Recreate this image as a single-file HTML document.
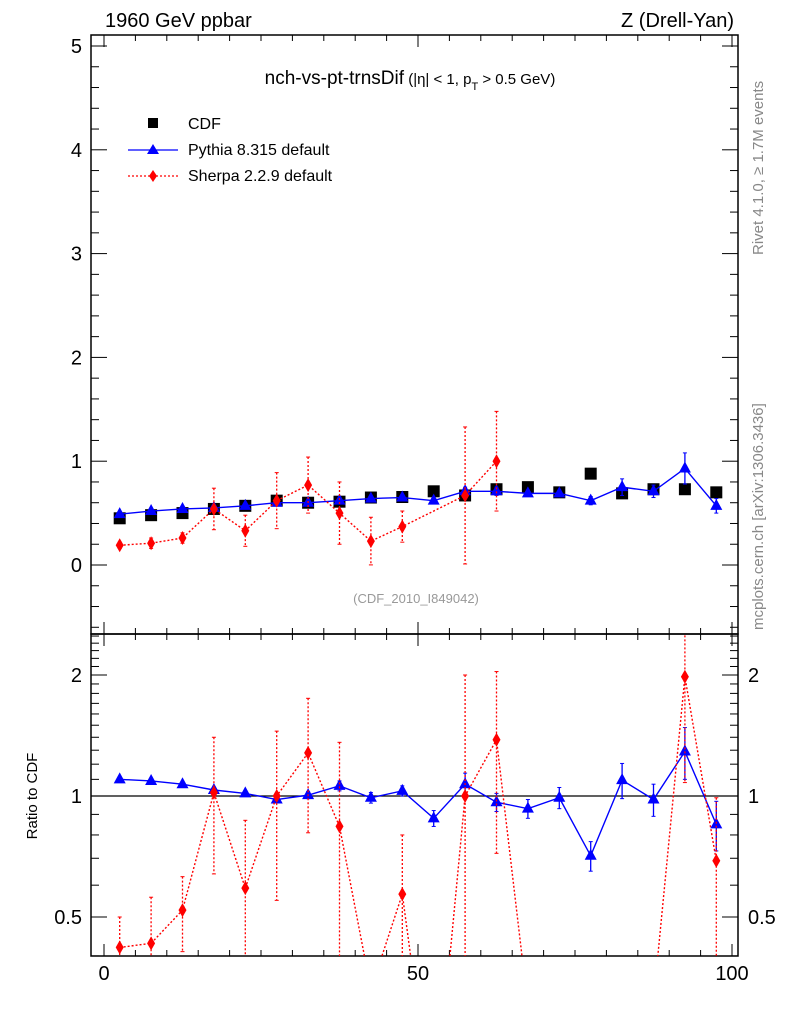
<!DOCTYPE html>
<html><head><meta charset="utf-8"><style>
html,body{margin:0;background:#fff;overflow:hidden;width:786px;height:1024px}
svg{display:block;font-family:"Liberation Sans",sans-serif}
</style></head><body>
<svg id="c" width="786" height="1024" xmlns="http://www.w3.org/2000/svg">
<text x="105" y="27" font-size="20">1960 GeV ppbar</text>
<text x="734" y="27" font-size="20" text-anchor="end">Z (Drell-Yan)</text>
<text x="410" y="84" font-size="19" text-anchor="middle">nch-vs-pt-trnsDif<tspan font-size="15"> (|η| &lt; 1, p</tspan><tspan font-size="11" dy="6">T</tspan><tspan font-size="15" dy="-6"> &gt; 0.5 GeV)</tspan></text>
<text x="416" y="603" font-size="13" fill="#999" text-anchor="middle">(CDF_2010_I849042)</text>
<text transform="translate(763,255) rotate(-90)" font-size="15" fill="#888">Rivet 4.1.0, ≥ 1.7M events</text>
<text transform="translate(763,630) rotate(-90)" font-size="15" fill="#888">mcplots.cern.ch [arXiv:1306.3436]</text>
<text transform="translate(37,796) rotate(-90)" font-size="15" text-anchor="middle">Ratio to CDF</text>
<g>
<rect x="148" y="118" width="10" height="10" fill="#000"/>
<text x="188" y="129" font-size="16">CDF</text>
<line x1="128" y1="150" x2="178" y2="150" stroke="#00f" stroke-width="1.3"/>
<polygon points="153,144 159,154 147,154" fill="#00f"/>
<text x="188" y="155" font-size="16">Pythia 8.315 default</text>
<line x1="128" y1="176" x2="178" y2="176" stroke="#f00" stroke-width="1.3" stroke-dasharray="2,2"/>
<polygon points="153,170 157,176 153,182 149,176" fill="#f00"/>
<text x="188" y="181" font-size="16">Sherpa 2.2.9 default</text>
</g>
<g id="plot"></g>
</svg>
<script>
const xCenters=[2.5,7.5,12.5,17.5,22.5,27.5,32.5,37.5,42.5,47.5,52.5,57.5,62.5,67.5,72.5,77.5,82.5,87.5,92.5,97.5];
const cdfVals=[0.45,0.48,0.50,0.54,0.57,0.62,0.60,0.61,0.65,0.655,0.71,0.67,0.73,0.75,0.70,0.88,0.69,0.73,0.73,0.70];
const pythiaVals=[0.49,0.52,0.54,0.55,0.57,0.60,0.60,0.62,0.64,0.65,0.62,0.71,0.71,0.69,0.69,0.62,0.75,0.71,0.93,0.57];
const pythiaErr=[0.01,0.01,0.01,0.01,0.01,0.015,0.015,0.02,0.02,0.02,0.02,0.04,0.04,0.03,0.03,0.04,0.08,0.06,0.15,0.07];
const sherpaVals=[0.19,0.21,0.26,0.54,0.33,0.62,0.77,0.50,0.23,0.37,null,0.67,1.00,null,null,null,null,null,null,null];
const sherpaErr=[0.03,0.05,0.05,0.2,0.15,0.27,0.27,0.3,0.23,0.15,0,0.66,0.48,0,0,0,0,0,0,0];
const pythiaRatio=[1.10,1.09,1.07,1.035,1.015,0.98,1.005,1.06,0.99,1.03,0.88,1.07,0.965,0.93,0.99,0.71,1.095,0.98,1.29,0.85];
const pythiaRatioErr=[0.01,0.01,0.01,0.01,0.01,0.015,0.02,0.03,0.03,0.03,0.04,0.07,0.05,0.05,0.06,0.06,0.11,0.09,0.19,0.12];
const sherpaRatio=[0.42,0.43,0.52,1.02,0.59,1.00,1.28,0.84,0.33,0.57,0.15,1.00,1.38,0.3,0.2,0.2,0.2,0.31,1.98,0.69];
const sherpaRatioErr=[0.08,0.13,0.11,0.38,0.28,0.45,0.47,0.52,0.03,0.23,0.05,1.0,0.66,0.05,0.05,0.05,0.05,0.05,0.9,0.3];
const mainTicks=[0,1,2,3,4,5];
const ratioTicks=[0.5,1,2];
const xTicks=[0,50,100];

const L=91,R=738,T=35,M=634,B=956;
const X=v=>104+v*6.28;
const Y=v=>565-v*103.8;
const YR=v=>796-Math.log2(v)*121;
const NS="http://www.w3.org/2000/svg";
const g=document.getElementById('plot');
function el(tag,attrs,parent){const e=document.createElementNS(NS,tag);for(const k in attrs)e.setAttribute(k,attrs[k]);(parent||g).appendChild(e);return e;}

const defs=el('defs',{});
const c1=el('clipPath',{id:'cm'},defs);el('rect',{x:L,y:T,width:R-L,height:M-T},c1);
const c2=el('clipPath',{id:'cr'},defs);el('rect',{x:L,y:M,width:R-L,height:B-M},c2);

const f1=el('rect',{x:L,y:T,width:R-L,height:M-T,fill:'none',stroke:'#000','stroke-width':1.5});


const f2=el('rect',{x:L,y:M,width:R-L,height:B-M,fill:'none',stroke:'#000','stroke-width':1.5});



for(let v=0;v<=100;v+=5){
  const maj=v%50===0, len=maj?12:6, x=X(v);
  el('line',{x1:x,y1:T,x2:x,y2:T+len,stroke:'#000'});
  el('line',{x1:x,y1:M,x2:x,y2:M-len,stroke:'#000'});
  el('line',{x1:x,y1:M,x2:x,y2:M+len,stroke:'#000'});
  el('line',{x1:x,y1:B,x2:x,y2:B-len,stroke:'#000'});
}
xTicks.forEach(v=>{const t=el('text',{x:X(v),y:980,'font-size':20,'text-anchor':'middle'});t.textContent=v;

});
for(let i=-3;i<=25;i++){const v=i/5;const y=Y(v);if(y<T||y>M)continue;const len=(i%5===0)?16:8;
  el('line',{x1:L,y1:y,x2:L+len,y2:y,stroke:'#000'});el('line',{x1:R,y1:y,x2:R-len,y2:y,stroke:'#000'});}
mainTicks.forEach(v=>{const t=el('text',{x:82,y:Y(v)+7,'font-size':20,'text-anchor':'end'});t.textContent=v;

});
for(let i=4;i<=25;i++){const v=i/10;const y=YR(v);if(y<M||y>B)continue;const len=(i===5||i===10||i===20)?16:8;
  el('line',{x1:L,y1:y,x2:L+len,y2:y,stroke:'#000'});el('line',{x1:R,y1:y,x2:R-len,y2:y,stroke:'#000'});}
ratioTicks.forEach(v=>{const t=el('text',{x:82,y:YR(v)+7,'font-size':20,'text-anchor':'end'});t.textContent=v;


const t2=el('text',{x:748,y:YR(v)+7,'font-size':20});t2.textContent=v;

});
el('line',{x1:L,y1:YR(1),x2:R,y2:YR(1),stroke:'#000','stroke-width':1.3});

function series(vals,errs,yf,clip,color,dash,marker,name){
  const grp=el('g',{'clip-path':'url(#'+clip+')'});
  
  
  let pts=[];
  vals.forEach((v,i)=>{if(v===null)return;pts.push(X(xCenters[i])+','+yf(v));});
  if(color!=='#000')el('polyline',{points:pts.join(' '),fill:'none',stroke:color,'stroke-width':1.4,'stroke-dasharray':dash},grp);
  vals.forEach((v,i)=>{if(v===null)return;const x=X(xCenters[i]),y=yf(v);
    if(errs&&errs[i]>0){const lo=Math.max(v-errs[i],1e-3);const y1=yf(v+errs[i]),y2=yf(lo);
      el('line',{x1:x,y1:y1,x2:x,y2:y2,stroke:color,'stroke-width':1.3,'stroke-dasharray':dash},grp);
      el('line',{x1:x-2,y1:y1,x2:x+2,y2:y1,stroke:color},grp);el('line',{x1:x-2,y1:y2,x2:x+2,y2:y2,stroke:color},grp);}
    let m;
    if(marker==='sq')m=el('rect',{x:x-6,y:y-6,width:12,height:12,fill:color},grp);
    else if(marker==='tri')m=el('polygon',{points:`${x},${y-7} ${x+6},${y+4} ${x-6},${y+4}`,fill:color},grp);
    else m=el('polygon',{points:`${x},${y-7} ${x+4},${y} ${x},${y+7} ${x-4},${y}`,fill:color},grp);
    
    
  });
}
series(cdfVals,null,Y,'cm','#000','','sq','cdf-data');
series(pythiaVals,pythiaErr,Y,'cm','#00f','','tri','pythia-main');
series(sherpaVals,sherpaErr,Y,'cm','#f00','2,2','dia','sherpa-main');
series(pythiaRatio,pythiaRatioErr,YR,'cr','#00f','','tri','pythia-ratio');
series(sherpaRatio,sherpaRatioErr,YR,'cr','#f00','2,2','dia','sherpa-ratio');
</script>
</body></html>
